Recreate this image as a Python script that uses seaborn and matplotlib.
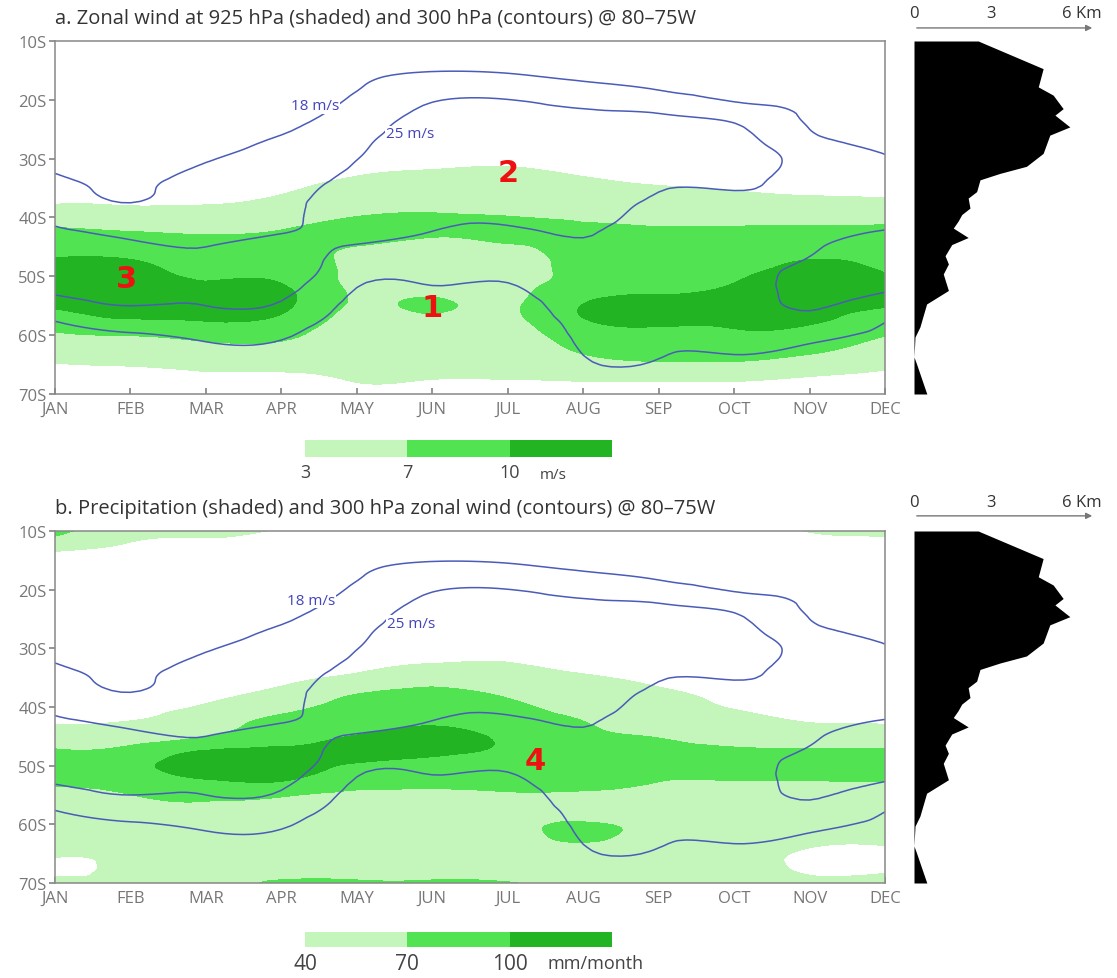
import numpy as np
import matplotlib
matplotlib.use("Agg")
import matplotlib.pyplot as plt
import matplotlib.tri as mtri
import seaborn as sns

months = ["JAN", "FEB", "MAR", "APR", "MAY", "JUN", "JUL", "AUG", "SEP", "OCT", "NOV", "DEC"]
lats = [10, 12.5, 15, 17.5, 20, 22.5, 25, 27.5, 30, 32.5, 35, 37.5, 40,
        42.5, 45, 47.5, 50, 52.5, 55, 57.5, 60, 62.5, 65, 67.5, 70]
lat_ticks = [10, 20, 30, 40, 50, 60, 70]

# 925 hPa zonal wind (m/s), one row per month, 10S -> 70S
u925 = [
    [0, 0, 0, 0, 0, 0, 0, 0, 0, 0.9, 1.9, 2.8, 5.4, 7.6, 9.0, 10.3, 11.5, 11.6, 10.4, 8.6, 6.5, 4.6, 2.8, 1.4, 0],
    [0, 0, 0, 0, 0, 0, 0, 0, 0, 0.9, 1.8, 2.7, 4.7, 7.1, 8.7, 10.2, 11.1, 11.8, 10.9, 9.8, 7.1, 5.1, 3.2, 1.6, 0],
    [0, 0, 0, 0, 0, 0, 0, 0, 0, 0.9, 1.9, 2.8, 4.7, 6.75, 7.8, 8.8, 9.7, 10.7, 11.3, 10.1, 7.9, 5.8, 3.8, 2.1, 0],
    [0, 0, 0, 0, 0, 0, 0, 0, 0.7, 1.6, 2.5, 3.8, 5.6, 7.2, 8.0, 8.8, 9.6, 10.5, 10.6, 9.3, 7.65, 5.9, 4.0, 2.0, 0],
    [0, 0, 0, 0, 0, 0, 0, 0.9, 1.9, 2.8, 4.1, 5.6, 7.1, 8.0, 6.9, 6.3, 6.2, 6.5, 6.6, 5.9, 5.4, 4.8, 4.0, 3.2, 2.0],
    [0, 0, 0, 0, 0, 0, 0.4, 1.3, 2.25, 3.3, 4.6, 6.0, 7.3, 7.3, 6.3, 5.6, 6.0, 6.5, 7.4, 6.2, 5.5, 4.9, 3.9, 3.0, 2.0],
    [0, 0, 0, 0, 0, 0, 0.7, 1.6, 2.5, 3.5, 4.7, 5.9, 7.1, 7.6, 6.7, 5.9, 6.0, 6.3, 6.6, 6.3, 5.7, 5.0, 4.0, 3.0, 2.0],
    [0, 0, 0, 0, 0, 0, 0, 0.9, 1.9, 2.8, 3.8, 5.1, 6.7, 7.3, 7.8, 8.0, 8.0, 8.9, 10.1, 9.8, 8.5, 7.4, 5.6, 3.3, 1.5],
    [0, 0, 0, 0, 0, 0, 0, 0.5, 1.4, 2.3, 3.2, 4.8, 6.3, 7.3, 7.8, 8.4, 9.1, 9.8, 10.6, 10.4, 9.3, 8.1, 6.5, 3.4, 1.0],
    [0, 0, 0, 0, 0, 0, 0, 0.2, 1.0, 1.9, 2.8, 4.3, 6.2, 7.4, 8.2, 8.95, 9.7, 10.5, 11.3, 10.5, 9.6, 8.2, 6.5, 3.4, 1.0],
    [0, 0, 0, 0, 0, 0, 0, 0, 0.7, 1.6, 2.4, 3.8, 6.0, 7.7, 8.95, 10.15, 11.0, 11.7, 11.0, 10.3, 9.1, 7.6, 5.2, 2.5, 0.5],
    [0, 0, 0, 0, 0, 0, 0, 0, 0.7, 1.5, 2.4, 3.6, 6.2, 7.6, 8.5, 9.4, 10.2, 11.0, 10.2, 8.7, 7.1, 5.3, 3.6, 2.0, 0.5],
]

# precipitation (mm/month)
precip = [
    [82, 50, 30, 28, 27, 26, 25, 25, 25, 26, 27, 29, 31, 37, 53.5, 72.6, 80, 73, 65.5, 56.7, 52.3, 48.3, 44, 30, 55],
    [46, 38, 30, 28, 27, 26, 25, 25, 26, 27, 28, 30, 32, 40.7, 59.5, 77.3, 92, 81, 69.7, 62.3, 55, 51, 47, 44, 45],
    [45, 35, 30, 28, 27, 27, 27, 28, 29, 30, 31, 34.4, 42.6, 55.8, 68.9, 101.8, 113.8, 98.2, 76.2, 64.6, 57, 55, 53.5, 52, 50],
    [38, 30, 28, 28, 28, 29, 30, 30, 31, 32, 35.6, 45.2, 61.5, 76.7, 91.3, 104, 111, 101.8, 72.7, 62.8, 55, 56, 57, 58, 75],
    [30, 28, 28, 28, 29, 30, 30, 31, 32, 34.5, 45.3, 67.4, 80.3, 88, 101.3, 108, 96.5, 78.8, 65.6, 56.8, 55.6, 56.3, 57, 58, 75],
    [30, 28, 28, 29, 30, 30, 31, 32, 33, 39.5, 59.1, 74.6, 85, 96.4, 106.3, 104.2, 91.8, 77.3, 65.6, 56.8, 55, 55.7, 56.3, 57, 75],
    [30, 29, 29, 29, 30, 31, 32, 33, 34, 40.5, 53, 65.5, 76, 85.5, 95, 96, 86.5, 76.8, 67.2, 57, 55, 55, 55, 55, 72],
    [29, 29, 29, 30, 30, 31, 32, 32, 33, 35.2, 42.3, 51.6, 61, 70.2, 74.6, 79.1, 76.5, 72.2, 66.2, 55, 75, 75, 55, 52, 50],
    [30, 29, 29, 30, 30, 31, 32, 33, 33, 34, 36.9, 42.8, 51.6, 60.5, 69.3, 73, 73.7, 70.5, 63.3, 56.7, 55.4, 54, 52.7, 51.3, 50],
    [30, 29, 29, 29, 30, 30, 31, 32, 32, 33, 34, 35, 38.7, 49.5, 62.6, 71.8, 74.2, 70.2, 61.5, 56.5, 56, 57, 58, 55, 50],
    [41, 32, 30, 29, 29, 29, 30, 31, 31, 32, 33, 33, 35, 39.2, 56.7, 71.8, 75.2, 70.2, 61.5, 56.7, 53.3, 48, 34, 34, 50],
    [45, 33, 30, 29, 29, 29, 30, 30, 31, 32, 33, 33, 34, 37.5, 55.5, 72, 75.5, 70.5, 62, 56, 53, 47, 33, 36, 48],
]

# 300 hPa zonal wind (m/s)
u300 = [
    [10, 10.9, 11.8, 12.7, 13.6, 14.5, 15.4, 16.3, 17.1, 18.0, 20.0, 22.0, 23.9, 25.7, 27.4, 29.0, 27.4, 25.7, 22.6, 18.2, 16.1, 14.0, 12.0, 10.0, 8.0],
    [9, 9.8, 10.6, 11.5, 12.3, 13.1, 13.9, 14.7, 15.5, 16.4, 17.2, 18.0, 21.0, 23.9, 26.0, 27.6, 27.9, 26.5, 25.0, 21.1, 17.5, 15.1, 12.8, 10.4, 8.0],
    [10, 11.0, 11.9, 12.9, 13.9, 14.8, 15.8, 16.8, 17.7, 18.9, 20.1, 21.3, 22.5, 23.7, 25.0, 26.5, 28.0, 26.5, 25.0, 22.1, 19.2, 16.5, 14.0, 11.5, 9.0],
    [11, 12.1, 13.2, 14.3, 15.4, 16.5, 17.6, 18.6, 19.6, 20.6, 21.7, 22.7, 23.7, 24.8, 26.3, 28.0, 28.3, 26.4, 24.3, 21.6, 18.8, 16.3, 13.8, 11.4, 9.0],
    [14, 15.2, 16.4, 17.5, 18.9, 20.4, 21.9, 23.3, 24.8, 26.6, 28.5, 29.7, 28.0, 26.3, 24.5, 22.1, 19.7, 17.6, 16.2, 14.9, 13.5, 12.1, 10.7, 9.4, 8.0],
    [14, 15.9, 17.8, 21.1, 24.6, 26.6, 28.4, 30.2, 32.0, 30.6, 29.2, 27.8, 26.4, 24.9, 23.0, 21.0, 19.0, 17.4, 16.0, 14.7, 13.3, 12.0, 10.7, 9.3, 8.0],
    [14, 15.8, 17.5, 21.0, 25.1, 26.8, 28.5, 30.3, 32.0, 30.5, 28.9, 27.4, 25.9, 24.2, 22.4, 20.5, 18.7, 17.2, 15.9, 14.6, 13.3, 11.9, 10.6, 9.3, 8.0],
    [13, 14.8, 16.6, 18.9, 23.3, 25.8, 27.2, 28.6, 30.0, 29.1, 28.1, 27.2, 26.3, 25.3, 24.3, 23.1, 21.9, 20.9, 20.2, 19.6, 18.9, 18.3, 17.3, 15.4, 13.0],
    [13, 14.4, 15.8, 17.3, 20.5, 25.2, 26.4, 27.7, 27.2, 26.2, 25.2, 24.4, 23.6, 22.8, 22.0, 21.5, 21.0, 20.5, 20.0, 19.5, 18.9, 18.4, 17.6, 15.3, 13.0],
    [14, 14.9, 15.8, 16.7, 17.6, 22.6, 25.9, 27.4, 28.1, 26.7, 25.2, 24.4, 23.8, 23.1, 22.5, 22.4, 22.3, 22.1, 22.0, 20.8, 19.6, 18.5, 16.8, 14.9, 13.0],
    [13, 13.8, 14.7, 15.5, 16.3, 17.2, 18.0, 20.3, 22.5, 22.8, 23.2, 23.5, 23.8, 24.2, 24.7, 25.3, 26.5, 26.4, 25.5, 23.3, 19.7, 17.1, 15.4, 13.7, 12.0],
    [11, 11.9, 12.8, 13.7, 14.6, 15.5, 16.4, 17.3, 18.3, 19.7, 21.1, 22.5, 23.9, 25.2, 26.4, 27.5, 26.4, 25.2, 22.1, 18.4, 16.4, 14.5, 12.7, 10.8, 9.0],
]

# Andes height profile along 80-75W
topo_lat = [10, 14.7, 17.8, 19.2, 21.5, 22.6, 24.6, 26.0, 29.1, 31.3, 32.5, 33.6, 35.6, 36.7,
            38.4, 39.5, 40.6, 41.8, 43.4, 44.6, 46.5, 47.9, 49.6, 52.4, 54.7, 58.6, 60.3, 63.7, 64.9, 70]
topo_km = [2.5, 5.03, 4.84, 5.42, 5.81, 5.49, 6.07, 5.29, 5.03, 4.38, 3.35, 2.57, 2.44, 2.11,
           2.18, 1.86, 1.72, 1.53, 2.11, 1.47, 1.21, 1.34, 1.14, 1.34, 0.49, 0.23, 0.04, 0.0, 0.1, 0.5]

wind_levels = [3, 7, 10]
precip_levels = [40, 70, 100]
jet_levels = [18, 25]

shades = ["#c4f5bb", "#52e352", "#22b422"]
line_col = "#4a5cb8"
label_col = "#4444bb"
red = "#ee1111"

W, H = 1117, 979


def box(x0, y0, x1, y1):
    return [x0 / W, 1 - y1 / H, (x1 - x0) / W, (y1 - y0) / H]


sns.set_theme(style="white")
plt.rcParams["font.family"] = ["Open Sans", "DejaVu Sans"]

fig = plt.figure(figsize=(W / 100, H / 100), dpi=100)

mgrid, lgrid = np.meshgrid(np.arange(len(months)), lats)
triang = mtri.Triangulation(mgrid.ravel(), lgrid.ravel())
refiner = mtri.UniformTriRefiner(triang)


def refine(field):
    z = np.asarray(field, dtype=float).T.ravel()
    return refiner.refine_field(z, subdiv=3)


def main_panel(rect, field, levels, title, labels):
    ax = fig.add_axes(rect)
    t, z = refine(field)
    cf = ax.tricontourf(t, z, levels=levels + [1e4], colors=shades)
    t2, z2 = refine(u300)
    ax.tricontour(t2, z2, levels=jet_levels, colors=line_col, linewidths=1.1)
    for (mx, ly, txt) in labels:
        ax.text(mx, ly, txt, color=label_col, fontsize=11, ha="center", va="center",
                bbox=dict(fc="white", ec="none", pad=0.6), zorder=5)
    ax.set_xlim(0, len(months) - 1)
    ax.set_ylim(70, 10)
    ax.set_xticks(range(len(months)))
    ax.set_xticklabels(months)
    ax.set_yticks(lat_ticks)
    ax.set_yticklabels([f"{v}S" for v in lat_ticks])
    ax.tick_params(axis="x", direction="in", bottom=True, length=4, color="#888",
                   labelsize=12, labelcolor="#777", pad=5)
    ax.tick_params(axis="y", direction="out", left=True, length=4, color="#888",
                   labelsize=12, labelcolor="#777", pad=2)
    for s in ax.spines.values():
        s.set_color("#888")
        s.set_linewidth(1.1)
    ax.text(0, 1.066, title, transform=ax.transAxes, fontsize=14.5, color="#333",
            ha="left", va="center")
    return ax, cf


def colorbar(cf, rect, levels, unit, fsize, unit_x):
    cax = fig.add_axes(rect)
    cb = fig.colorbar(cf, cax=cax, orientation="horizontal", ticks=levels)
    cb.outline.set_visible(False)
    cb.ax.tick_params(length=0, pad=4, labelsize=fsize, labelcolor="#444")
    cb.ax.text(unit_x, -1.05, unit, transform=cax.transAxes, fontsize=fsize - 2,
               color="#444", ha="center", va="center")


def profile(rect, lab_y, arr_y):
    sx = fig.add_axes(rect)
    sx.fill_betweenx(topo_lat, 0, topo_km, color="black", lw=0)
    sx.set_xlim(0, 7.05)
    sx.set_ylim(70, 10)
    sx.axis("off")
    sx.annotate("", xy=(7.05, arr_y), xytext=(0, arr_y), xycoords=("data", "axes fraction"),
                arrowprops=dict(arrowstyle="-|>", color="#777", lw=1, mutation_scale=9),
                annotation_clip=False)
    sx.text(0, lab_y, "0", transform=sx.get_xaxis_transform(), ha="center", va="center",
            fontsize=12, color="#333")
    sx.text(3, lab_y, "3", transform=sx.get_xaxis_transform(), ha="center", va="center",
            fontsize=12, color="#333")
    sx.text(5.75, lab_y, "6 Km", transform=sx.get_xaxis_transform(), ha="left", va="center",
            fontsize=12, color="#333")


narrow_bold = dict(color=red, fontsize=22, fontweight="bold", ha="center", va="center",
                   family=["DejaVu Sans Condensed", "DejaVu Sans"], zorder=6)

ax_a, cf_a = main_panel(box(55, 42, 885, 395), u925, wind_levels,
                        "a. Zonal wind at 925 hPa (shaded) and 300 hPa (contours) @ 80\u201375W",
                        [(3.45, 21.0, "18 m/s"), (4.7, 25.8, "25 m/s")])
ax_a.text(5.0, 55.3, "1", **narrow_bold)
ax_a.text(6.0, 32.3, "2", **narrow_bold)
ax_a.text(0.95, 50.3, "3", **narrow_bold)
colorbar(cf_a, box(305, 441, 612, 458), wind_levels, "m/s", 13, 0.808)
profile(box(914, 42, 1095, 395), 1.079, 1.037)

ax_b, cf_b = main_panel(box(55, 532, 885, 884), precip, precip_levels,
                        "b. Precipitation (shaded) and 300 hPa zonal wind (contours) @ 80\u201375W",
                        [(3.4, 21.8, "18 m/s"), (4.72, 25.8, "25 m/s")])
ax_b.text(6.37, 49.2, "4", **narrow_bold)
colorbar(cf_b, box(305, 933, 612, 948), precip_levels, "mm/month", 15, 0.948)
profile(box(914, 532, 1095, 884), 1.082, 1.043)

fig.savefig("out.png", dpi=100)
